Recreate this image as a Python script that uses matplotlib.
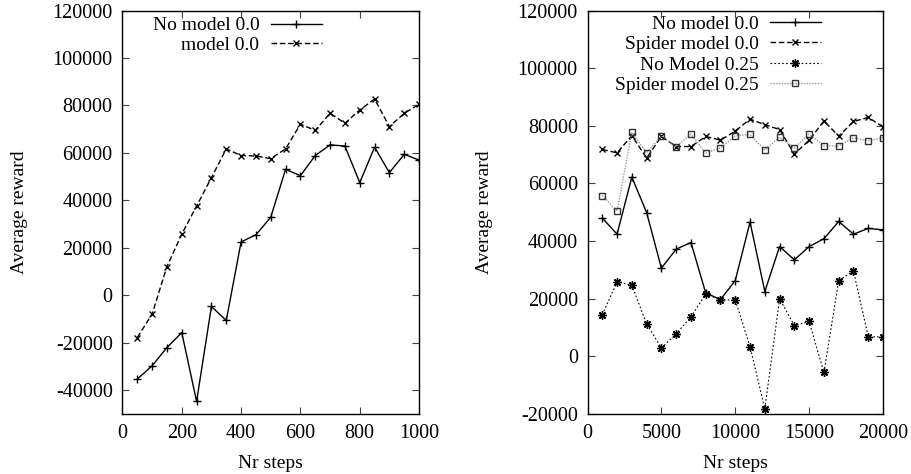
import matplotlib
matplotlib.use("Agg")
import matplotlib.pyplot as plt

plt.rcParams['font.family'] = ['Liberation Serif', 'DejaVu Serif']
plt.rcParams['axes.unicode_minus'] = False

# ---- left panel data ----
steps_left = [50, 100, 150, 200, 250, 300, 350, 400, 450, 500,
              550, 600, 650, 700, 750, 800, 850, 900, 950, 1000]
no_model_left = [-35300, -29700, -22000, -15700, -44700, -4700, -10600, 22500, 25500, 32900,
                 53100, 50400, 58900, 63400, 62900, 47500, 62400, 51700, 59400, 57000]
model_left = [-17800, -7900, 12100, 25800, 37600, 49600, 61700, 58900, 58700, 57600,
              61700, 72100, 69500, 76700, 72500, 78100, 82700, 71100, 76700, 80500]

# ---- right panel data ----
steps_right = [1000, 2000, 3000, 4000, 5000, 6000, 7000, 8000, 9000, 10000,
               11000, 12000, 13000, 14000, 15000, 16000, 17000, 18000, 19000, 20000]
no_model_00 = [48000, 42400, 62200, 49900, 30600, 37200, 39500, 22000, 19700, 26300,
               46600, 22500, 38100, 33500, 38100, 40800, 46800, 42400, 44400, 43900]
spider_00 = [71800, 70600, 76600, 68800, 76300, 72800, 72800, 76300, 75000, 78200,
             82300, 80400, 78700, 70200, 75000, 81700, 76400, 81500, 82900, 79600]
no_model_025 = [14450, 25800, 24700, 11300, 2900, 7800, 13700, 21600, 19700, 19500,
                3400, -18200, 20000, 10700, 12100, -5600, 26300, 29600, 6800, 6700]
spider_025 = [55800, 50400, 77800, 70600, 76500, 72800, 77100, 70600, 72300, 76500,
              77000, 71600, 76000, 72300, 77100, 73000, 73000, 75800, 74800, 75900]

left_yticks = [-40000, -20000, 0, 20000, 40000, 60000, 80000, 100000, 120000]
left_xticks = [0, 200, 400, 600, 800, 1000]
right_yticks = [-20000, 0, 20000, 40000, 60000, 80000, 100000, 120000]
right_xticks = [0, 5000, 10000, 15000, 20000]

FS = 14.5
LFS = 14
fig = plt.figure(figsize=(9.11, 4.74), dpi=100)
axL = fig.add_axes([0.1344, 0.1266, 0.4600 - 0.1344, 0.9778 - 0.1266])
axR = fig.add_axes([0.6449, 0.1266, 0.9693 - 0.6449, 0.9778 - 0.1266])

def style(ax, xt, yt, xlim, ylim, ylab_x):
    ax.set_xlim(*xlim)
    ax.set_ylim(*ylim)
    ax.set_xticks(xt)
    ax.set_yticks(yt)
    ax.tick_params(direction='in', length=5, width=0.8, top=True, right=True,
                   labelsize=FS, pad=7, color='#444444')
    for s in ax.spines.values():
        s.set_linewidth(1.0)
        s.set_color('black')
    ax.set_xlabel('Nr steps', fontsize=LFS)
    ax.set_ylabel('Average reward', fontsize=LFS)
    ax.xaxis.set_label_coords(0.5, -0.102)
    ax.yaxis.set_label_coords(ylab_x, 0.5)

ms = 6
axL.plot(steps_left, no_model_left, color='black', lw=1.0, ls='-', marker='+',
         ms=ms, mew=1.0, label='No model 0.0')
axL.plot(steps_left, model_left, color='black', lw=1.0, ls=(0, (4, 2)), marker='x',
         ms=5, mew=1.0, label='model 0.0')
style(axL, left_xticks, left_yticks, (0, 1000), (-50000, 120000), -0.318)
axL.legend(loc='upper right', bbox_to_anchor=(0.717, 1.018), frameon=False,
           markerfirst=False, fontsize=LFS, handlelength=2.6, handletextpad=0.6,
           labelspacing=0.1, borderpad=0.2, numpoints=1)

axR.plot(steps_right, no_model_00, color='black', lw=1.0, ls='-', marker='+',
         ms=ms, mew=1.0, label='No model 0.0')
axR.plot(steps_right, spider_00, color='black', lw=1.0, ls=(0, (4, 2)), marker='x',
         ms=5, mew=1.0, label='Spider model 0.0')
axR.plot(steps_right, no_model_025, color='black', lw=0.8, ls=(0, (1.5, 2)),
         marker=(8, 2, 0), ms=6, mew=1.0, label='No Model 0.25')
axR.plot(steps_right, spider_025, color='#999999', lw=1.0, ls=(0, (1, 1)), marker='s',
         ms=5, mew=1.0, mfc='none', mec='#333333', label='Spider model 0.25')
style(axR, right_xticks, right_yticks, (0, 20000), (-20000, 120000), -0.32)
axR.legend(loc='upper right', bbox_to_anchor=(0.835, 1.022), frameon=False,
           markerfirst=False, fontsize=LFS, handlelength=2.6, handletextpad=0.6,
           labelspacing=0.14, borderpad=0.2, numpoints=1)

fig.savefig('out.png', dpi=100)
